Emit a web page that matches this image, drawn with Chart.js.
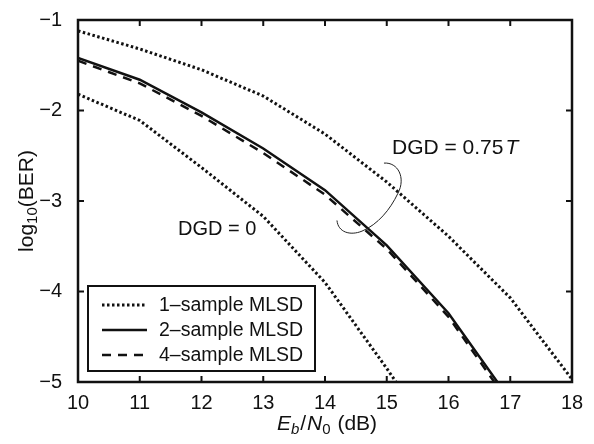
<!DOCTYPE html>
<html lang="en">
<head>
<meta charset="UTF-8">
<title>BER vs Eb/N0</title>
<script src="https://cdn.jsdelivr.net/npm/chart.js@4.4.1/dist/chart.umd.min.js"></script>
<style>
  html, body { margin: 0; padding: 0; background: #ffffff; }
  #wrap { width: 594px; height: 444px; position: relative; }
</style>
</head>
<body>
<div id="wrap"><canvas id="ber"></canvas></div>
<script>
// Eb/N0 (dB) sample points
const ebn0 = [10, 11, 12, 13, 14, 15, 16, 17, 18];

// log10(BER) values (null = not plotted)
const dgd075OneSample = [-1.12, -1.32, -1.55, -1.84, -2.26, -2.79, -3.39, -4.07, -4.97];
const dgd075TwoSample = [-1.42, -1.66, -2.02, -2.42, -2.88, -3.49, -4.24, -5.20, null];
const dgd075FourSample = [-1.45, -1.70, -2.06, -2.47, -2.93, -3.53, -4.28, -5.25, null];
const dgd0OneSample = [-1.82, -2.11, -2.63, -3.17, -3.90, -4.85, -5.85, null, null];

const xTicks = [10, 11, 12, 13, 14, 15, 16, 17, 18];
const yTicks = [-5, -4, -3, -2, -1];

const legendLabels = ['1\u2013sample MLSD', '2\u2013sample MLSD', '4\u2013sample MLSD'];

const FONT = '"Liberation Sans", Arial, Helvetica, sans-serif';

function pts(vals) {
  return ebn0.map((x, i) => ({ x: x, y: vals[i] }));
}

const DOT = [2.5, 2.5];
const DASH = [9, 7];

// extra drawing: box, inward ticks, annotations, legend, axis titles
const decor = {
  id: 'decor',
  afterDatasetsDraw(chart) {
    const { ctx, chartArea: a, scales: { x, y } } = chart;
    ctx.save();
    ctx.strokeStyle = '#111';
    ctx.fillStyle = '#111';

    // inward ticks on all four sides
    ctx.lineWidth = 2;
    ctx.beginPath();
    xTicks.forEach(t => {
      const px = x.getPixelForValue(t);
      ctx.moveTo(px, a.bottom); ctx.lineTo(px, a.bottom - 6);
      ctx.moveTo(px, a.top); ctx.lineTo(px, a.top + 6);
    });
    yTicks.forEach(t => {
      const py = y.getPixelForValue(t);
      ctx.moveTo(a.left, py); ctx.lineTo(a.left + 6, py);
      ctx.moveTo(a.right, py); ctx.lineTo(a.right - 6, py);
    });
    ctx.stroke();

    // axes box
    ctx.lineWidth = 2.5;
    ctx.strokeRect(a.left, a.top, a.right - a.left, a.bottom - a.top);

    // curved pointer from the DGD = 0.75T label
    const P = (vx, vy) => [x.getPixelForValue(vx), y.getPixelForValue(vy)];
    ctx.lineWidth = 1;
    ctx.strokeStyle = '#222';
    ctx.beginPath();
    ctx.moveTo(...P(14.955, -2.581));
    ctx.bezierCurveTo(...P(15.182, -2.570), ...P(15.312, -2.742), ...P(15.182, -2.914));
    ctx.bezierCurveTo(...P(15.053, -3.097), ...P(14.858, -3.258), ...P(14.599, -3.333));
    ctx.bezierCurveTo(...P(14.405, -3.387), ...P(14.211, -3.344), ...P(14.194, -3.215));
    ctx.stroke();

    // curve labels
    ctx.font = '21px ' + FONT;
    ctx.textBaseline = 'middle';
    ctx.textAlign = 'left';
    let [lx, ly] = P(15.085, -2.419);
    const s1 = 'DGD = 0.75';
    ctx.fillText(s1, lx, ly);
    const w1 = ctx.measureText(s1).width;
    ctx.font = 'italic 21px ' + FONT;
    ctx.fillText('T', lx + w1 + 2, ly);
    ctx.font = '20px ' + FONT;
    [lx, ly] = P(11.62, -3.31);
    ctx.fillText('DGD = 0', lx, ly);

    // legend box
    const lb = { l: 88, t: 286, r: 315, b: 371 };
    ctx.fillStyle = '#fff';
    ctx.fillRect(lb.l, lb.t, lb.r - lb.l, lb.b - lb.t);
    ctx.strokeStyle = '#111';
    ctx.lineWidth = 2;
    ctx.strokeRect(lb.l, lb.t, lb.r - lb.l, lb.b - lb.t);
    const dashes = [DOT, [], DASH];
    ctx.fillStyle = '#111';
    ctx.font = '19.5px ' + FONT;
    legendLabels.forEach((lab, i) => {
      const ry = 305 + i * 25;
      ctx.lineWidth = i === 0 ? 3 : 2.5;
      ctx.setLineDash(dashes[i]);
      ctx.beginPath();
      ctx.moveTo(102, ry); ctx.lineTo(147, ry);
      ctx.stroke();
      ctx.setLineDash([]);
      ctx.fillText(lab, 159, ry + 1);
    });

    // x axis title: E_b/N_0 (dB)
    const cx = (a.left + a.right) / 2 + 2;
    const ty = 424;
    const parts = [
      { t: 'E', f: 'italic 21px ', dy: 0, g: 0 },
      { t: 'b', f: 'italic 15px ', dy: 6, g: 1 },
      { t: '/', f: '21px ', dy: 0, g: 1 },
      { t: 'N', f: 'italic 21px ', dy: 0, g: 0 },
      { t: '0', f: '15px ', dy: 6, g: 1 },
      { t: ' (dB)', f: '21px ', dy: 0, g: 0 }
    ];
    let tw = 0;
    parts.forEach(p => { ctx.font = p.f + FONT; p.w = ctx.measureText(p.t).width + p.g; tw += p.w; });
    let px0 = cx - tw / 2;
    parts.forEach(p => { ctx.font = p.f + FONT; ctx.fillText(p.t, px0, ty + p.dy); px0 += p.w; });

    // y axis title: log10(BER)
    ctx.translate(27, (a.top + a.bottom) / 2);
    ctx.rotate(-Math.PI / 2);
    const yparts = [
      { t: 'log', f: '21px ', dy: 0 },
      { t: '10', f: '15px ', dy: 6 },
      { t: '(BER)', f: '21px ', dy: 0 }
    ];
    tw = 0;
    yparts.forEach(p => { ctx.font = p.f + FONT; p.w = ctx.measureText(p.t).width; tw += p.w; });
    px0 = -tw / 2;
    yparts.forEach(p => { ctx.font = p.f + FONT; ctx.fillText(p.t, px0, p.dy); px0 += p.w; });
    ctx.restore();
  }
};

const common = { borderColor: '#111', borderWidth: 2.5, pointRadius: 0, fill: false, tension: 0 };

new Chart(document.getElementById('ber'), {
  type: 'line',
  data: {
    datasets: [
      Object.assign({ label: '1-sample MLSD, DGD = 0.75T', data: pts(dgd075OneSample) }, common, { borderDash: DOT, borderWidth: 3 }),
      Object.assign({ label: '2-sample MLSD', data: pts(dgd075TwoSample) }, common),
      Object.assign({ label: '4-sample MLSD', data: pts(dgd075FourSample), borderDash: DASH }, common),
      Object.assign({ label: '1-sample MLSD, DGD = 0', data: pts(dgd0OneSample) }, common, { borderDash: DOT, borderWidth: 3 })
    ]
  },
  options: {
    responsive: true,
    maintainAspectRatio: false,
    animation: false,
    layout: { padding: { left: 0, top: 10, right: 22, bottom: 0 } },
    plugins: { legend: { display: false }, tooltip: { enabled: false } },
    scales: {
      x: {
        type: 'linear', min: 10, max: 18,
        afterFit: s => { s.height = 62; },
        afterBuildTicks: s => { s.ticks = xTicks.map(v => ({ value: v })); },
        grid: { display: false },
        border: { display: false },
        ticks: { color: '#111', padding: 1, maxRotation: 0, font: { family: FONT, size: 20 } }
      },
      y: {
        type: 'linear', min: -5, max: -1,
        afterFit: s => { s.width = 78; },
        afterBuildTicks: s => { s.ticks = yTicks.map(v => ({ value: v })); },
        grid: { display: false },
        border: { display: false },
        ticks: {
          color: '#111', padding: 8, font: { family: FONT, size: 20 },
          callback: v => (v < 0 ? '\u2212' : '') + Math.abs(v)
        }
      }
    }
  },
  plugins: [decor]
});
</script>
</body>
</html>
